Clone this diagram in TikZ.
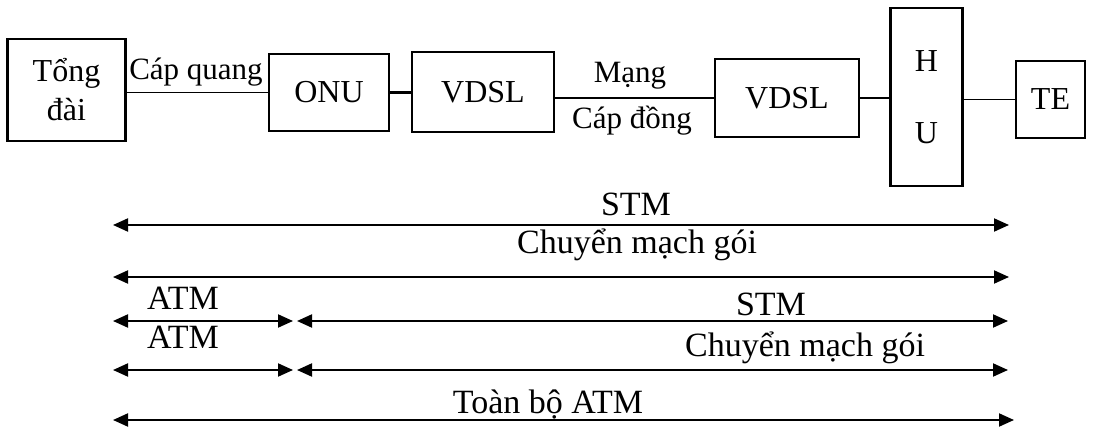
\documentclass[tikz,border=0pt]{standalone}
\usepackage{fontspec}
\setmainfont{Liberation Serif}
\usetikzlibrary{arrows.meta}
\begin{document}
\begin{tikzpicture}[x=1pt,y=-1pt,
  box/.style={draw, line width=2.2pt, inner sep=0pt, align=center, font=\fontsize{32}{39}\selectfont},
  lbl/.style={font=\fontsize{34}{40}\selectfont, inner sep=0pt, anchor=base},
  toplbl/.style={font=\fontsize{31}{38}\selectfont, inner sep=0pt, anchor=base},
  conn/.style={line width=1.7pt},
  span/.style={line width=2pt, {Triangle[length=15pt,width=13pt]}-{Triangle[length=15pt,width=13pt]}}]
\useasboundingbox (0,0) rectangle (1110,430);
% boxes
\node[box, minimum width=118pt, minimum height=102pt] (tong) at (66.5,90) {Tổng\\đài};
\node[box, minimum width=120pt, minimum height=77pt] (onu) at (329,92.5) {ONU};
\node[box, minimum width=142pt, minimum height=80pt] (vdsla) at (483,92) {VDSL};
\node[box, minimum width=144pt, minimum height=78pt] (vdslb) at (787,98) {VDSL};
\node[box, minimum width=72pt, minimum height=178pt] (hu) at (926.5,97) {H\\[33pt]U};
\node[box, minimum width=69pt, minimum height=77pt] (te) at (1050.5,99.5) {TE};
% connectors
\draw[conn] (tong.east |- onu.west) -- (onu.west);
\draw[conn, line width=2.4pt] (onu.east) -- (vdsla.west |- onu.east);
\draw[conn] (vdsla.east |- vdslb.west) -- (vdslb.west);
\draw[conn, line width=2.4pt] (vdslb.east) -- (hu.west |- vdslb.east);
\draw[conn] (hu.east |- te.west) -- (te.west);
% top labels
\node[toplbl] (cq) at (196,80) {Cáp quang};
\node[toplbl] (mang) at (630,83) {Mạng};
\node[toplbl] (cd) at (632,129) {Cáp đồng};
% spans
\coordinate (r1l) at (113,225); \coordinate (r1r) at (1009,225);
\coordinate (r2l) at (113,277); \coordinate (r2r) at (1009,277);
\coordinate (r3l) at (113,321); \coordinate (r3m) at (293,321);
\coordinate (r3n) at (297,321); \coordinate (r3r) at (1008,321);
\coordinate (r4l) at (113,370); \coordinate (r4m) at (293,370);
\coordinate (r4n) at (297,370); \coordinate (r4r) at (1008,370);
\coordinate (r5l) at (113,420); \coordinate (r5r) at (1014,420);
\draw[span] (r1l) -- (r1r);
\draw[span] (r2l) -- (r2r);
\draw[span] (r3l) -- (r3m);
\draw[span] (r3n) -- (r3r);
\draw[span] (r4l) -- (r4m);
\draw[span] (r4n) -- (r4r);
\draw[span] (r5l) -- (r5r);
% span labels
\node[lbl] (stma) at (636,216) {STM};
\node[lbl] (cmga) at (637,254) {Chuyển mạch gói};
\node[lbl] (atma) at (183,309) {ATM};
\node[lbl] (stmb) at (771,315) {STM};
\node[lbl] (atmb) at (183,348) {ATM};
\node[lbl] (cmgb) at (805,356) {Chuyển mạch gói};
\node[lbl] (toan) at (548,413) {Toàn bộ ATM};
\end{tikzpicture}
\end{document}
